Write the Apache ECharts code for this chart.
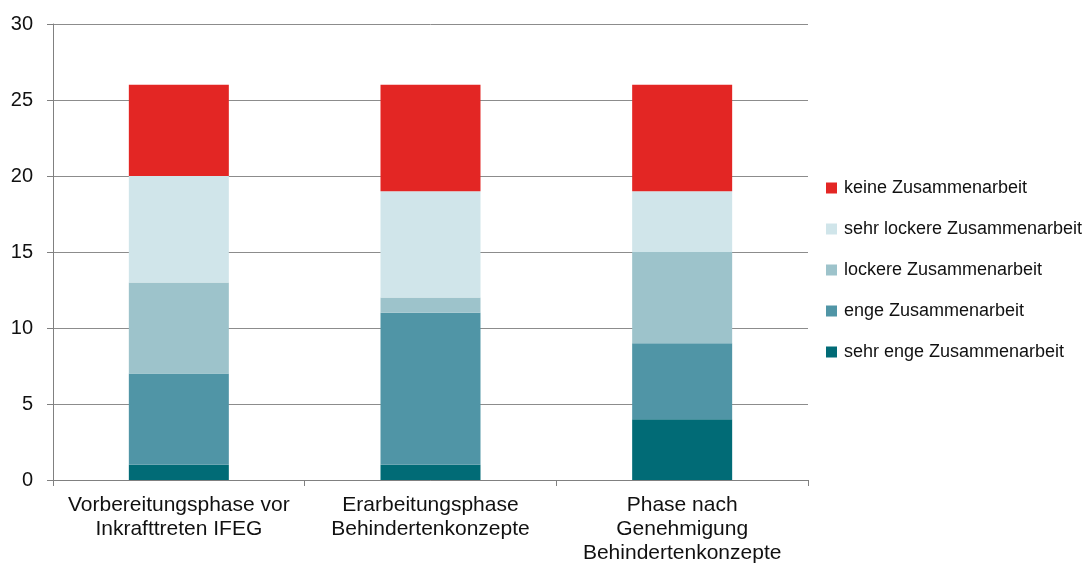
<!DOCTYPE html>
<html>
<head>
<meta charset="utf-8">
<script src="https://cdn.jsdelivr.net/npm/echarts@6/dist/echarts.min.js"></script>
<style>
  html, body { margin: 0; padding: 0; background: #fff; }
  #chart { width: 1086px; height: 565px; }
</style>
</head>
<body>
<div id="chart"></div>
<script>
// Kategorien (Phasen)
var categories = [
  "Vorbereitungsphase vor\nInkrafttreten IFEG",
  "Erarbeitungsphase\nBehindertenkonzepte",
  "Phase nach\nGenehmigung\nBehindertenkonzepte"
];
var seriesNames = [
  "sehr enge Zusammenarbeit",
  "enge Zusammenarbeit",
  "lockere Zusammenarbeit",
  "sehr lockere Zusammenarbeit",
  "keine Zusammenarbeit"
];
// Werte je Stufe, unten nach oben
var sehrEng = [1, 1, 4];
var eng = [6, 10, 5];
var locker = [6, 1, 6];
var sehrLocker = [7, 7, 4];
var keine = [6, 7, 7];
var yTicks = [0, 5, 10, 15, 20, 25, 30];

var colors = ["#016b76", "#5095a6", "#9dc3cb", "#d0e5ea", "#e32624"];
var values = [sehrEng, eng, locker, sehrLocker, keine];

var myChart = echarts.init(document.getElementById("chart"));
myChart.setOption({
  backgroundColor: "#ffffff",
  animation: false,
  textStyle: { fontFamily: "Liberation Sans, Arial, sans-serif" },
  grid: { left: 53, right: 278, top: 24, bottom: 85 },
  legend: {
    orient: "vertical",
    left: 821,
    top: 174,
    itemWidth: 11,
    itemHeight: 11,
    itemGap: 23,
    icon: "rect",
    data: seriesNames.slice().reverse(),
    textStyle: { fontSize: 18, color: "#111", padding: [0, 0, 0, 2] }
  },
  xAxis: {
    type: "category",
    data: categories,
    axisLine: { lineStyle: { color: "#808080", width: 1 } },
    axisTick: { show: true, interval: 0, alignWithLabel: false, length: 6, lineStyle: { color: "#808080" } },
    axisLabel: { interval: 0, hideOverlap: false, fontSize: 21, color: "#111", lineHeight: 24, margin: 13 }
  },
  yAxis: {
    type: "value",
    min: yTicks[0],
    max: yTicks[yTicks.length - 1],
    interval: 5,
    axisLine: { show: true, lineStyle: { color: "#808080", width: 1 } },
    axisTick: { show: true, length: 6, lineStyle: { color: "#808080" } },
    splitLine: { lineStyle: { color: "#8c8c8c", width: 1 } },
    axisLabel: { fontSize: 20, color: "#111", margin: 20 }
  },
  series: seriesNames.map(function (name, i) {
    return {
      name: name,
      type: "bar",
      stack: "total",
      barWidth: 100,
      data: values[i],
      itemStyle: { color: colors[i] }
    };
  })
});
</script>
</body>
</html>
